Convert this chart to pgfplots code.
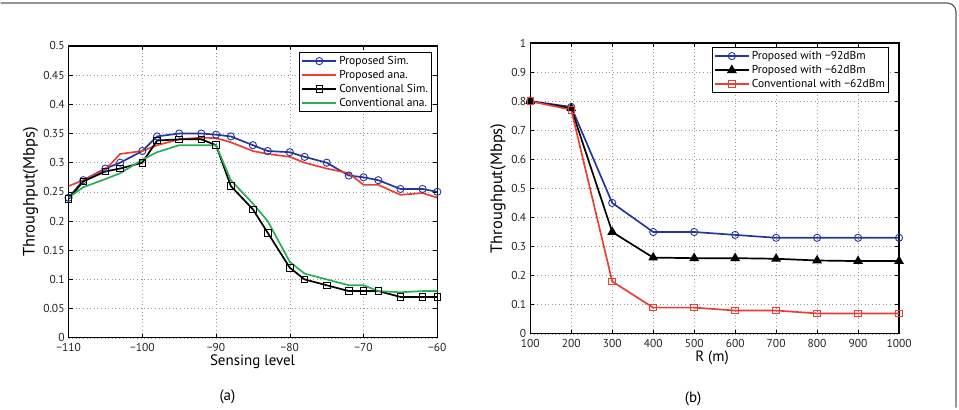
\documentclass[border=0pt]{standalone}
\usepackage{pgfplots}
\pgfplotsset{compat=1.18}
\usepackage{fontspec}
\setmainfont{PT Sans}
\definecolor{mblue}{RGB}{35,55,160}
\definecolor{mred}{RGB}{238,62,50}
\definecolor{mgreen}{RGB}{40,175,80}
\definecolor{frame}{RGB}{90,90,90}

\pgfplotstableread{
x p ps c cs
-110 0.240 0.260 0.238 0.240
-108 0.270 0.270 0.268 0.258
-105 0.290 0.288 0.285 0.272
-103 0.300 0.315 0.290 0.282
-100 0.320 0.320 0.300 0.305
-98  0.345 0.330 0.338 0.318
-95  0.350 0.340 0.340 0.330
-92  0.350 0.343 0.340 0.330
-90  0.348 0.342 0.330 0.330
-88  0.345 0.335 0.260 0.270
-85  0.330 0.320 0.220 0.230
-83  0.320 0.315 0.180 0.200
-80  0.318 0.310 0.120 0.130
-78  0.310 0.300 0.100 0.110
-75  0.300 0.290 0.090 0.100
-72  0.278 0.282 0.080 0.090
-70  0.275 0.262 0.080 0.090
-68  0.270 0.262 0.080 0.080
-65  0.255 0.245 0.070 0.078
-62  0.255 0.248 0.070 0.080
-60  0.250 0.240 0.070 0.080
}\tableA

\pgfplotstableread{
r a b c
100  0.800 0.800 0.800
200  0.780 0.775 0.770
300  0.450 0.350 0.180
400  0.350 0.262 0.090
500  0.350 0.260 0.090
600  0.340 0.260 0.080
700  0.330 0.258 0.080
800  0.330 0.252 0.070
900  0.330 0.250 0.070
1000 0.330 0.250 0.070
}\tableB

\pgfplotsset{
  mstyle/.style={
    scale only axis,
    anchor=south west,
    width=369pt,
    axis line style={black, line width=1.1pt},
    tick align=inside,
    tick pos=both,
    major tick length=4pt,
    tick style={black, line width=0.6pt},
    grid=major,
    major grid style={gray!80, line width=0.5pt, dash pattern=on 1pt off 2.6pt},
    ticklabel style={font=\fontsize{11.5}{13}\selectfont, text=black!85},
    xticklabel style={yshift=-2pt},
    yticklabel style={xshift=-0.5pt},
    legend cell align=left,
    legend style={font=\fontsize{11.5}{13}\selectfont, draw=black, line width=1pt,
      anchor=north east, inner sep=1.5pt, row sep=0pt,
      nodes={inner sep=2.2pt}},
    legend image code/.code={\draw[line width=1.7pt, mark repeat=2, mark phase=2] plot coordinates {(0pt,0pt) (17pt,0pt) (34pt,0pt)};},
  },
}

\begin{document}
\begin{tikzpicture}
\path (0pt,0pt) rectangle (959pt,408pt);
\draw[frame, line width=1.2pt, rounded corners=9pt] (0pt,405pt) -- (956pt,405pt) -- (956pt,0pt);

\begin{axis}[mstyle,
  at={(68pt,70pt)}, height=292pt,
  xmin=-110, xmax=-60, ymin=0, ymax=0.5,
  xtick={-110,-100,-90,-80,-70,-60},
  xticklabels={−110,−100,−90,−80,−70,−60},
  ytick={0,0.05,0.1,0.15,0.2,0.25,0.3,0.35,0.4,0.45,0.5},
  yticklabels={0,0.05,0.1,0.15,0.2,0.25,0.3,0.35,0.4,0.45,0.5},
  xlabel={Sensing level},
  ylabel={Throughput(Mbps)},
  every axis x label/.style={at={(axis description cs:0.499,-0.082)}, anchor=center, font=\fontsize{15}{17}\selectfont},
  every axis y label/.style={at={(axis description cs:-0.103,0.5)}, rotate=90, anchor=center, font=\fontsize{16.5}{18}\selectfont},
  legend style={at={(axis description cs:0.986,0.979)}},
]
\addplot[mblue, line width=1.7pt, mark=o, mark size=3.6pt, mark options={line width=0.9pt}] table[x=x, y=p] {\tableA};
\addlegendentry{Proposed Sim.}
\addplot[mred, line width=1.7pt] table[x=x, y=ps] {\tableA};
\addlegendentry{Proposed ana.}
\addplot[black, line width=1.7pt, mark=square, mark size=3.3pt, mark options={line width=0.9pt}] table[x=x, y=c] {\tableA};
\addlegendentry{Conventional Sim.}
\addplot[mgreen, line width=1.7pt] table[x=x, y=cs] {\tableA};
\addlegendentry{Conventional ana.}
\end{axis}

\begin{axis}[mstyle,
  at={(530pt,74pt)}, height=291pt,
  xmin=100, xmax=1000, ymin=0, ymax=1,
  xtick={100,200,...,1000},
  ytick={0,0.1,...,1.0},
  yticklabels={0,0.1,0.2,0.3,0.4,0.5,0.6,0.7,0.8,0.9,1},
  xticklabels={100,200,300,400,500,600,700,800,900,1000},
  xlabel={R (m)},
  ylabel={Throughput(Mbps)},
  every axis x label/.style={at={(axis description cs:0.493,-0.082)}, anchor=center, font=\fontsize{15}{17}\selectfont},
  every axis y label/.style={at={(axis description cs:-0.087,0.5)}, rotate=90, anchor=center, font=\fontsize{16.5}{18}\selectfont},
  legend style={at={(axis description cs:0.973,0.986)}},
]
\addplot[mblue, line width=1.7pt, mark=o, mark size=3.6pt, mark options={line width=0.9pt}] table[x=r, y=a] {\tableB};
\addlegendentry{Proposed with −92dBm}
\addplot[black, line width=1.7pt, mark=triangle*, mark size=4pt] table[x=r, y=b] {\tableB};
\addlegendentry{Proposed with −62dBm}
\addplot[mred, line width=1.7pt, mark=square, mark size=3.3pt, mark options={line width=0.9pt}] table[x=r, y=c] {\tableB};
\addlegendentry{Conventional with −62dBm}
\end{axis}

\node[font=\fontsize{15}{17}\selectfont] at (227pt,11pt) {(a)};
\node[font=\fontsize{15}{17}\selectfont] at (693pt,9pt) {(b)};
\end{tikzpicture}
\end{document}
